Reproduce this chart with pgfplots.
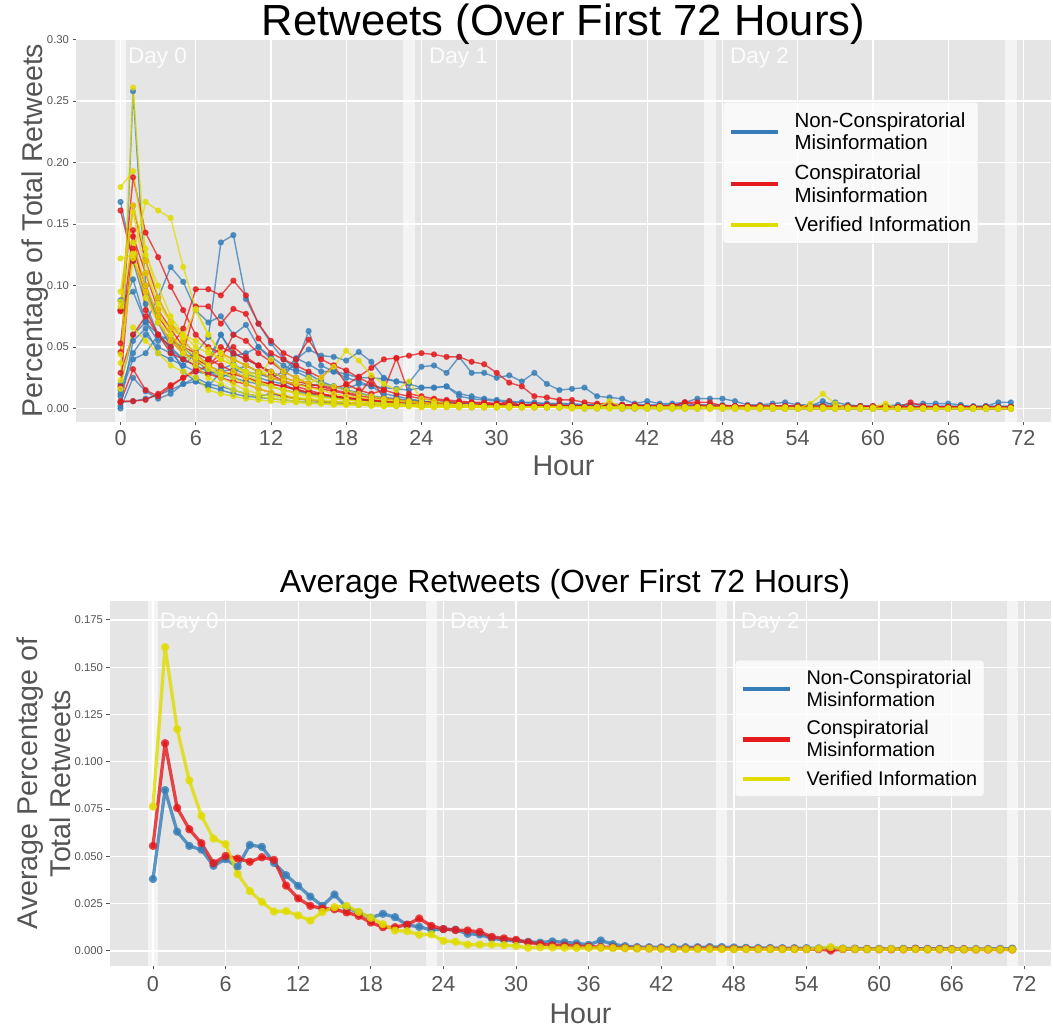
\documentclass[border=0pt]{standalone}
\usepackage{fontspec}
\setmainfont{Liberation Sans}
\usepackage{pgfplots}
\usepackage{pgfplotstable}
\pgfplotsset{compat=1.18}
\definecolor{ggbg}{HTML}{E5E5E5}
\definecolor{ggtxt}{HTML}{555555}
\definecolor{cb}{HTML}{377EB8}
\definecolor{cr}{HTML}{E41A1C}
\definecolor{cy}{HTML}{E0DC00}

\pgfplotstableread[row sep=\\]{
s h0 h1 h2 h3 h4 h5 h6 h7 h8 h9 h10 h11 h12 h13 h14 h15 h16 h17 h18 h19 h20 h21 h22 h23 h24 h25 h26 h27 h28 h29 h30 h31 h32 h33 h34 h35 h36 h37 h38 h39 h40 h41 h42 h43 h44 h45 h46 h47 h48 h49 h50 h51 h52 h53 h54 h55 h56 h57 h58 h59 h60 h61 h62 h63 h64 h65 h66 h67 h68 h69 h70 h71 \\
B1 0.168 0.120 0.085 0.060 0.048 0.040 0.035 0.030 0.028 0.025 0.022 0.020
 0.018 0.015 0.013 0.012 0.010 0.009 0.008 0.007 0.006 0.005 0.005 0.004
 0.004 0.003 0.003 0.003 0.002 0.002 0.002 0.002 0.002 0.001 0.001 0.001
 0.001 0.001 0.001 0.001 0.001 0.001 0.001 0.001 0.001 0.001 0.001 0.001
 0.001 0.001 0 0.001 0 0.001 0 0 0.001 0 0 0
 0 0 0.001 0 0 0 0 0 0 0 0 0 \\
B2 0.010 0.258 0.100 0.070 0.050 0.030 0.022 0.018 0.015 0.012 0.010 0.009
 0.008 0.007 0.006 0.005 0.005 0.004 0.004 0.003 0.003 0.003 0.002 0.002
 0.002 0.002 0.002 0.001 0.001 0.001 0.001 0.001 0.001 0.001 0.001 0.001
 0.001 0 0 0.001 0 0 0 0 0 0 0 0
 0 0 0 0 0 0 0 0 0 0 0 0
 0 0 0 0 0 0 0 0 0 0 0 0 \\
B3 0.002 0.055 0.065 0.045 0.040 0.035 0.045 0.058 0.135 0.141 0.089 0.069
 0.053 0.040 0.032 0.028 0.022 0.018 0.015 0.012 0.010 0.008 0.007 0.006
 0.005 0.005 0.004 0.004 0.003 0.003 0.003 0.003 0.002 0.002 0.002 0.002
 0.002 0.002 0.002 0.001 0.001 0.001 0.001 0.001 0.001 0.001 0.001 0.001
 0.001 0.001 0.001 0.001 0.001 0.001 0.001 0.001 0.001 0.001 0.001 0
 0 0 0.001 0 0 0 0.001 0 0 0 0 0 \\
B4 0.020 0.060 0.070 0.090 0.115 0.103 0.080 0.070 0.075 0.060 0.068 0.050
 0.040 0.030 0.035 0.063 0.035 0.030 0.025 0.022 0.018 0.012 0.010 0.008
 0.006 0.005 0.005 0.004 0.004 0.003 0.003 0.003 0.003 0.002 0.002 0.002
 0.002 0.002 0.002 0.002 0.001 0.001 0.001 0.001 0.001 0.001 0.001 0.001
 0.001 0.001 0.001 0.001 0.001 0.001 0.001 0.001 0.001 0.001 0.001 0.001
 0.001 0.001 0.001 0.001 0.001 0.001 0.001 0.001 0.001 0.001 0.001 0.001 \\
B5 0.088 0.095 0.070 0.060 0.050 0.040 0.045 0.040 0.060 0.045 0.040 0.035
 0.030 0.025 0.040 0.048 0.043 0.042 0.039 0.046 0.038 0.025 0.022 0.020
 0.017 0.017 0.018 0.012 0.010 0.008 0.007 0.006 0.005 0.005 0.004 0.004
 0.004 0.003 0.003 0.003 0.003 0.003 0.003 0.003 0.003 0.003 0.003 0.003
 0.003 0.002 0.002 0.002 0.002 0.002 0.002 0.002 0.006 0.002 0.002 0.002
 0.002 0.002 0.002 0.002 0.002 0.002 0.002 0.002 0.002 0.002 0.002 0.002 \\
B6 0.015 0.045 0.060 0.050 0.045 0.035 0.030 0.028 0.032 0.036 0.030 0.028
 0.025 0.030 0.041 0.036 0.030 0.030 0.028 0.025 0.025 0.024 0.022 0.021
 0.034 0.035 0.029 0.042 0.029 0.029 0.025 0.027 0.022 0.029 0.020 0.015
 0.016 0.017 0.010 0.009 0.008 0.004 0.006 0.004 0.004 0.005 0.008 0.008
 0.008 0.006 0.003 0.003 0.004 0.005 0.003 0.003 0.003 0.005 0.003 0.002
 0.002 0.002 0.003 0.003 0.004 0.004 0.004 0.003 0.001 0.002 0.005 0.005 \\
B7 0.012 0.040 0.045 0.060 0.055 0.050 0.040 0.030 0.025 0.030 0.035 0.030
 0.025 0.022 0.020 0.018 0.020 0.018 0.016 0.020 0.018 0.017 0.016 0.015
 0.017 0.017 0.018 0.010 0.008 0.007 0.006 0.005 0.005 0.004 0.004 0.004
 0.003 0.003 0.003 0.003 0.003 0.003 0.002 0.002 0.002 0.002 0.002 0.002
 0.002 0.002 0.002 0.002 0.002 0.002 0.002 0.002 0.002 0.002 0.002 0.002
 0.001 0.001 0.001 0.001 0.001 0.001 0.001 0.001 0.001 0.001 0.001 0.001 \\
B8 0.005 0.006 0.008 0.011 0.015 0.020 0.022 0.018 0.030 0.032 0.028 0.025
 0.022 0.020 0.015 0.012 0.010 0.009 0.008 0.007 0.006 0.005 0.004 0.004
 0.003 0.003 0.003 0.002 0.002 0.002 0.002 0.002 0.001 0.001 0.001 0.001
 0.001 0.001 0.001 0.001 0.001 0.001 0.001 0.001 0.001 0.001 0.001 0.001
 0.001 0.001 0.001 0.001 0 0 0 0 0 0 0 0
 0 0 0 0 0 0 0 0 0 0 0 0 \\
B9 0 0.025 0.014 0.008 0.012 0.020 0.025 0.020 0.018 0.015 0.012 0.010
 0.012 0.010 0.008 0.007 0.006 0.005 0.005 0.004 0.004 0.003 0.003 0.003
 0.002 0.002 0.002 0.002 0.001 0.001 0.001 0.001 0.001 0.001 0.001 0.001
 0.001 0.001 0.001 0.001 0 0 0 0 0 0 0 0
 0 0 0 0 0 0 0 0 0 0 0 0
 0 0 0 0 0 0 0 0 0 0 0 0 \\
B10 0.080 0.105 0.070 0.055 0.060 0.045 0.040 0.035 0.060 0.043 0.045 0.050
 0.042 0.035 0.030 0.025 0.020 0.018 0.015 0.013 0.010 0.009 0.008 0.007
 0.006 0.005 0.005 0.004 0.004 0.003 0.003 0.003 0.003 0.002 0.002 0.002
 0.002 0.002 0.002 0.002 0.002 0.001 0.001 0.001 0.001 0.001 0.001 0.001
 0.001 0.001 0.001 0.001 0.001 0.001 0.001 0.001 0.001 0.001 0.001 0.001
 0.001 0.001 0.001 0.001 0.001 0.001 0.001 0.001 0.001 0.001 0.001 0.001 \\
R1 0.161 0.120 0.095 0.070 0.055 0.045 0.040 0.035 0.030 0.028 0.025 0.022
 0.020 0.018 0.015 0.013 0.012 0.010 0.009 0.008 0.007 0.006 0.005 0.005
 0.004 0.004 0.003 0.003 0.003 0.002 0.002 0.002 0.002 0.002 0.001 0.001
 0.001 0.001 0.001 0.001 0.001 0.001 0.001 0.001 0.001 0.001 0.001 0.001
 0.001 0.001 0.001 0 0 0 0 0 0 0 0 0
 0 0 0 0 0 0 0 0 0 0 0 0 \\
R2 0.080 0.188 0.143 0.123 0.099 0.080 0.060 0.050 0.045 0.040 0.035 0.030
 0.025 0.022 0.020 0.018 0.016 0.014 0.012 0.010 0.009 0.008 0.007 0.006
 0.005 0.005 0.004 0.004 0.003 0.003 0.003 0.002 0.002 0.002 0.002 0.002
 0.002 0.001 0.001 0.001 0.001 0.001 0.001 0.001 0.001 0.001 0.001 0.001
 0.001 0.001 0.001 0.001 0.001 0.001 0.001 0.001 0.001 0.001 0.001 0.001
 0.001 0.001 0.001 0.001 0.001 0.001 0 0 0 0 0 0 \\
R3 0.053 0.145 0.080 0.060 0.050 0.065 0.097 0.097 0.092 0.104 0.092 0.069
 0.055 0.045 0.040 0.056 0.040 0.035 0.031 0.025 0.020 0.015 0.012 0.010
 0.008 0.007 0.006 0.005 0.005 0.004 0.004 0.003 0.003 0.003 0.002 0.002
 0.002 0.002 0.002 0.002 0.002 0.002 0.001 0.001 0.001 0.001 0.001 0.001
 0.001 0.001 0.001 0.001 0.001 0.001 0.001 0.001 0.001 0.001 0.001 0.001
 0.001 0.001 0.001 0.001 0.001 0.001 0.001 0.001 0.001 0.001 0.001 0.001 \\
R4 0.046 0.130 0.100 0.075 0.060 0.045 0.083 0.083 0.069 0.081 0.077 0.057
 0.045 0.040 0.035 0.030 0.025 0.035 0.020 0.015 0.012 0.015 0.041 0.012
 0.010 0.008 0.007 0.006 0.005 0.005 0.004 0.004 0.003 0.003 0.003 0.003
 0.002 0.002 0.002 0.002 0.002 0.002 0.002 0.002 0.002 0.002 0.002 0.002
 0.002 0.002 0.002 0.002 0.001 0.001 0.001 0.001 0.001 0.001 0.001 0.001
 0.001 0.001 0.001 0.001 0.001 0.001 0.001 0.001 0.001 0.001 0.001 0.001 \\
R5 0.029 0.060 0.075 0.060 0.045 0.040 0.035 0.040 0.050 0.045 0.040 0.035
 0.030 0.025 0.022 0.020 0.018 0.017 0.019 0.026 0.033 0.040 0.041 0.043
 0.045 0.044 0.042 0.042 0.038 0.036 0.029 0.021 0.018 0.010 0.009 0.007
 0.007 0.005 0.004 0.004 0.003 0.003 0.002 0.002 0.002 0.005 0.005 0.005
 0.002 0.002 0.002 0.002 0.002 0.002 0.002 0.002 0.001 0.001 0.001 0.001
 0.001 0.001 0.001 0.001 0.001 0.001 0.001 0.001 0.001 0.001 0.001 0.001 \\
R6 0.018 0.140 0.110 0.080 0.065 0.050 0.045 0.035 0.040 0.060 0.055 0.045
 0.038 0.030 0.025 0.020 0.018 0.015 0.013 0.011 0.025 0.008 0.007 0.006
 0.005 0.005 0.004 0.004 0.003 0.003 0.003 0.002 0.002 0.002 0.002 0.002
 0.002 0.002 0.001 0.001 0.001 0.001 0.001 0.001 0.001 0.001 0.001 0.001
 0.001 0.001 0.001 0.001 0.001 0.001 0.001 0.001 0.001 0.001 0.001 0.001
 0.001 0.001 0.001 0.001 0.001 0.001 0.001 0.001 0 0 0 0 \\
R7 0.005 0.032 0.015 0.010 0.018 0.025 0.030 0.035 0.045 0.050 0.042 0.035
 0.028 0.022 0.018 0.015 0.012 0.010 0.009 0.008 0.007 0.006 0.005 0.005
 0.004 0.004 0.004 0.003 0.003 0.003 0.002 0.002 0.002 0.002 0.002 0.002
 0.001 0.001 0.001 0.001 0.001 0.001 0.001 0.001 0.001 0.001 0.001 0.001
 0.001 0.001 0.001 0.001 0.001 0.001 0.001 0.001 0.001 0.001 0.001 0.001
 0.001 0.001 0.001 0.001 0.001 0.001 0.001 0.001 0.001 0.001 0 0 \\
R8 0.006 0.006 0.007 0.012 0.019 0.025 0.032 0.028 0.025 0.022 0.020 0.016
 0.013 0.010 0.008 0.007 0.006 0.005 0.005 0.004 0.004 0.003 0.003 0.003
 0.002 0.002 0.002 0.002 0.002 0.002 0.001 0.001 0.001 0.001 0.001 0.001
 0.001 0.001 0.001 0.001 0.001 0.001 0.001 0.001 0.001 0.001 0.001 0.001
 0 0 0 0 0 0 0 0 0 0 0 0
 0 0 0 0 0 0 0 0 0 0 0 0 \\
R9 0.079 0.165 0.120 0.090 0.070 0.055 0.045 0.040 0.035 0.030 0.025 0.022
 0.020 0.018 0.016 0.013 0.011 0.010 0.008 0.007 0.006 0.006 0.005 0.005
 0.004 0.004 0.004 0.003 0.003 0.003 0.003 0.006 0.002 0.002 0.002 0.002
 0.002 0.002 0.002 0.002 0.002 0.002 0.002 0.002 0.002 0.005 0.003 0.002
 0.002 0.002 0.002 0.002 0.002 0.002 0.002 0.002 0.002 0.002 0.002 0.002
 0.002 0.002 0.001 0.005 0.002 0.001 0.001 0.001 0.001 0.001 0.001 0.001 \\
Y1 0.023 0.261 0.120 0.080 0.060 0.045 0.035 0.025 0.020 0.015 0.012 0.010
 0.008 0.007 0.006 0.005 0.004 0.004 0.003 0.003 0.003 0.002 0.002 0.002
 0.001 0.001 0.001 0.001 0.001 0.001 0.001 0.001 0.001 0.001 0.001 0.001
 0 0 0 0 0 0 0 0 0 0 0 0
 0 0 0 0 0 0 0 0 0 0 0 0
 0 0 0 0 0 0 0 0 0 0 0 0 \\
Y2 0.180 0.193 0.130 0.090 0.070 0.055 0.045 0.035 0.030 0.025 0.020 0.016
 0.013 0.011 0.009 0.008 0.007 0.006 0.005 0.004 0.004 0.003 0.003 0.002
 0.002 0.002 0.002 0.001 0.001 0.001 0.001 0.001 0.001 0.001 0.001 0.001
 0.001 0.001 0.001 0.001 0.001 0.001 0.001 0.001 0.001 0.001 0.001 0.001
 0 0 0 0 0 0 0 0 0 0 0 0
 0 0 0 0 0 0 0 0 0 0 0 0 \\
Y3 0.122 0.125 0.168 0.161 0.155 0.115 0.081 0.060 0.045 0.035 0.028 0.022
 0.018 0.015 0.012 0.010 0.009 0.008 0.007 0.006 0.005 0.004 0.004 0.003
 0.003 0.002 0.002 0.002 0.001 0.001 0.001 0.001 0.001 0.001 0.001 0.001
 0.001 0.001 0.001 0.006 0.001 0.001 0 0 0 0 0 0
 0 0 0 0 0 0 0 0 0 0 0 0
 0 0 0 0 0 0 0 0 0 0 0 0 \\
Y4 0.095 0.165 0.125 0.100 0.075 0.060 0.050 0.045 0.040 0.035 0.030 0.025
 0.040 0.030 0.025 0.020 0.025 0.034 0.047 0.039 0.027 0.020 0.015 0.022
 0.008 0.006 0.004 0.003 0.003 0.002 0.002 0.002 0.001 0.001 0.001 0.001
 0.001 0.001 0.001 0.001 0.001 0.001 0.001 0.001 0.001 0.001 0.001 0.001
 0.001 0.001 0.001 0.001 0.001 0.001 0 0 0 0 0 0
 0 0 0 0 0 0 0 0 0 0 0 0 \\
Y5 0.087 0.160 0.110 0.085 0.070 0.060 0.055 0.048 0.040 0.035 0.030 0.028
 0.030 0.025 0.022 0.025 0.020 0.018 0.015 0.012 0.010 0.008 0.007 0.006
 0.005 0.004 0.003 0.003 0.003 0.002 0.002 0.002 0.001 0.001 0.001 0.001
 0.001 0.001 0.001 0.001 0.001 0.001 0.001 0.001 0.001 0.001 0.001 0.001
 0 0 0 0 0 0 0 0 0 0 0 0
 0.001 0.004 0 0 0 0 0 0 0 0 0 0 \\
Y6 0.083 0.135 0.100 0.075 0.065 0.058 0.080 0.060 0.045 0.040 0.035 0.030
 0.025 0.022 0.020 0.017 0.015 0.012 0.010 0.009 0.008 0.007 0.006 0.005
 0.004 0.003 0.003 0.002 0.002 0.002 0.001 0.001 0.001 0.001 0.001 0.001
 0.001 0.001 0.001 0.001 0.001 0.001 0 0 0 0 0 0
 0 0 0 0 0 0 0 0 0 0 0 0
 0 0 0 0 0 0 0 0 0 0 0 0 \\
Y7 0.044 0.126 0.095 0.070 0.055 0.045 0.040 0.032 0.028 0.030 0.025 0.020
 0.018 0.015 0.013 0.011 0.010 0.008 0.007 0.006 0.005 0.004 0.004 0.003
 0.003 0.002 0.002 0.002 0.002 0.001 0.001 0.001 0.001 0.001 0.001 0.001
 0.001 0.001 0.001 0.001 0.001 0.001 0.001 0.001 0.001 0.001 0.001 0.001
 0.001 0.001 0.001 0.001 0.001 0.001 0.001 0.001 0.001 0.001 0.001 0.001
 0 0 0 0 0 0 0 0 0 0 0 0 \\
Y8 0.037 0.122 0.090 0.070 0.060 0.050 0.042 0.035 0.025 0.020 0.015 0.012
 0.010 0.009 0.008 0.007 0.006 0.005 0.005 0.004 0.004 0.003 0.003 0.003
 0.002 0.002 0.002 0.002 0.002 0.002 0.001 0.001 0.001 0.001 0.001 0.001
 0 0 0 0 0 0 0 0 0 0 0 0
 0 0 0 0 0 0 0 0 0 0 0 0
 0 0 0 0 0 0 0 0 0 0 0 0 \\
Y9 0.016 0.066 0.055 0.045 0.035 0.030 0.025 0.015 0.012 0.010 0.008 0.007
 0.006 0.005 0.005 0.004 0.004 0.003 0.003 0.003 0.002 0.002 0.002 0.002
 0.001 0.001 0.001 0.001 0.001 0.001 0.001 0.001 0.001 0.001 0.001 0.001
 0.001 0.001 0.001 0.001 0.001 0.001 0.001 0.001 0.001 0.001 0.001 0.001
 0 0 0 0 0 0 0 0.004 0.012 0.004 0 0
 0 0 0 0 0 0 0 0 0 0 0 0 \\
}\Rtop
\pgfplotstabletranspose[colnames from=s]\Ttop{\Rtop}

\pgfplotstableread[row sep=\\]{
s h0 h1 h2 h3 h4 h5 h6 h7 h8 h9 h10 h11 h12 h13 h14 h15 h16 h17 h18 h19 h20 h21 h22 h23 h24 h25 h26 h27 h28 h29 h30 h31 h32 h33 h34 h35 h36 h37 h38 h39 h40 h41 h42 h43 h44 h45 h46 h47 h48 h49 h50 h51 h52 h53 h54 h55 h56 h57 h58 h59 h60 h61 h62 h63 h64 h65 h66 h67 h68 h69 h70 h71 \\
AB 0.038 0.085 0.063 0.0555 0.0535 0.045 0.0485 0.0445 0.056 0.055 0.0465 0.040
 0.0344 0.0287 0.0238 0.0298 0.0229 0.0203 0.0175 0.0196 0.0178 0.0137 0.0127 0.0111
 0.0115 0.0112 0.0090 0.0087 0.0066 0.0058 0.0053 0.0048 0.0044 0.0050 0.0045 0.0040
 0.0032 0.0055 0.0035 0.0025 0.0020 0.0019 0.0018 0.0018 0.0019 0.0019 0.0020 0.0020
 0.0018 0.0016 0.0015 0.0015 0.0014 0.0014 0.0014 0.0013 0.0014 0.0012 0.0012 0.0011
 0.0011 0.0011 0.0011 0.0012 0.0011 0.0011 0.0010 0.0010 0.0010 0.0010 0.0011 0.0012 \\
AR 0.0555 0.1098 0.0756 0.0643 0.0569 0.0464 0.0502 0.0488 0.0471 0.0495 0.0481 0.0345
 0.0277 0.0238 0.0224 0.0220 0.0203 0.0185 0.0150 0.0125 0.0125 0.0139 0.0171 0.0132
 0.0115 0.0110 0.0108 0.0100 0.0074 0.0066 0.0058 0.0045 0.0036 0.0030 0.0028 0.0025
 0.0022 0.0020 0.0018 0.0016 0.0014 0.0013 0.0013 0.0012 0.0012 0.0013 0.0013 0.0012
 0.0011 0.0011 0.0010 0.0010 0.0010 0.0010 0.0009 0.0009 0.0002 0.0009 0.0009 0.0009
 0.0008 0.0008 0.0008 0.0010 0.0008 0.0008 0.0008 0.0008 0.0007 0.0007 0.0007 0.0007 \\
AY 0.0763 0.1606 0.1172 0.0901 0.0714 0.0594 0.0564 0.0406 0.0316 0.0259 0.0208 0.0210
 0.0187 0.0160 0.0206 0.0231 0.0238 0.0206 0.0175 0.0141 0.0107 0.0104 0.0085 0.0087
 0.0053 0.0048 0.0033 0.0033 0.0033 0.0030 0.0026 0.0016 0.0018 0.0017 0.0016 0.0015
 0.0016 0.0015 0.0014 0.0013 0.0012 0.0011 0.0010 0.0010 0.0009 0.0009 0.0009 0.0009
 0.0008 0.0008 0.0008 0.0008 0.0008 0.0008 0.0009 0.0012 0.0020 0.0011 0.0009 0.0008
 0.0008 0.0010 0.0008 0.0008 0.0007 0.0007 0.0007 0.0007 0.0007 0.0007 0.0007 0.0007 \\
}\Rbot
\pgfplotstabletranspose[colnames from=s]\Tbot{\Rbot}

\tikzset{
  daylab/.style={anchor=base west, inner sep=0pt, text=white, text opacity=0.9,
    font=\fontsize{22.5bp}{26bp}\selectfont},
}
\pgfplotsset{
  gg/.style={
    scale only axis,
    axis background/.style={fill=ggbg},
    axis line style={draw=none},
    grid=major,
    grid style={draw=white, line width=1.3bp},
    tick align=outside,
    major tick length=3.5bp,
    tick style={draw=ggtxt, line width=0.9bp},
    xtick pos=left, ytick pos=left,
    xmin=-3.55, xmax=74.2,
    xtick={0,6,...,72},
    scaled y ticks=false,
    /pgf/number format/assume math mode=true,
    xticklabel style={font=\fontsize{21.6bp}{26bp}\selectfont, text=ggtxt, inner sep=2bp, yshift=-3bp},
    yticklabel style={font=\fontsize{11.3bp}{13bp}\selectfont, text=ggtxt,
      /pgf/number format/fixed, /pgf/number format/fixed zerofill},
    label style={font=\fontsize{28.6bp}{33.5bp}\selectfont, text=ggtxt},
    legend image code/.code={\path (-1bp,0bp); \draw[##1] (0bp,0bp) -- (47bp,0bp);},
    legend style={anchor=north west, draw=black!12, fill=white, fill opacity=0.8,
      text opacity=1, rounded corners=3bp,
      font=\fontsize{20.5bp}{22.6bp}\selectfont,
      inner xsep=5bp, inner ysep=8bp, row sep=9.5bp,
      nodes={inner xsep=2bp},
      cells={align=left, anchor=west},
      /tikz/every odd column/.append style={column sep=12bp}},
  },
  tb/.style={cb, line width=1.4bp, line join=round, opacity=0.75, mark=*, mark size=2.4bp, mark options={solid}},
  tr/.style={cr, line width=1.4bp, line join=round, opacity=0.75, mark=*, mark size=2.4bp, mark options={solid}},
  ty/.style={cy, line width=1.4bp, line join=round, opacity=0.75, mark=*, mark size=2.4bp, mark options={solid}},
  ab/.style={line width=3.3bp, line join=round, opacity=0.8, mark=*, mark size=2.5bp, mark options={solid}, forget plot},
  band/.style={draw=none, fill=white, fill opacity=0.6, forget plot},
}

\begin{document}
\begin{tikzpicture}
\path[use as bounding box] (0bp,0bp) rectangle (1053bp,-1029bp);

% ---------------- top axis ----------------
\begin{axis}[gg,
  at={(76bp,-421.7bp)}, anchor=south west,
  width=975bp, height=382.4bp,
  ymin=-0.0107, ymax=0.3002,
  ytick={0,0.05,0.10,0.15,0.20,0.25,0.30},
  yticklabel style={/pgf/number format/precision=2},
  title={Retweets (Over First 72 Hours)},
  title style={at={(axis description cs:0.5,1)}, anchor=base, yshift=-2.5bp,
    font=\fontsize{43.6bp}{50bp}\selectfont, text=black},
  xlabel={Hour},
  x label style={at={(axis description cs:0.5,0)}, anchor=center, yshift=-44.3bp},
  ylabel={Percentage of Total Retweets},
  y label style={at={(axis description cs:-0.0421,0.5)}, anchor=center},
  legend style={at={(0.6636,0.836)}},
]
\addplot[band] coordinates {(-0.45,-1) (0.45,-1) (0.45,1) (-0.45,1)};
\addplot[band] coordinates {(22.55,-1) (23.45,-1) (23.45,1) (22.55,1)};
\addplot[band] coordinates {(46.55,-1) (47.45,-1) (47.45,1) (46.55,1)};
\addplot[band] coordinates {(70.55,-1) (71.45,-1) (71.45,1) (70.55,1)};
\pgfplotsinvokeforeach{B1,B2,B3,B4,B5,B6,B7,B8,B9,B10}{
  \addplot[tb, forget plot] table[x expr=\coordindex, y=#1]{\Ttop};
}
\pgfplotsinvokeforeach{R1,R2,R3,R4,R5,R6,R7,R8,R9}{
  \addplot[tr, forget plot] table[x expr=\coordindex, y=#1]{\Ttop};
}
\pgfplotsinvokeforeach{Y1,Y2,Y3,Y4,Y5,Y6,Y7,Y8,Y9}{
  \addplot[ty, forget plot] table[x expr=\coordindex, y=#1]{\Ttop};
}
\addlegendimage{cb, line width=4.3bp}
\addlegendentry{Non-Conspiratorial\\Misinformation}
\addlegendimage{cr, line width=4.3bp}
\addlegendentry{Conspiratorial\\Misinformation}
\addlegendimage{cy, line width=4.3bp}
\addlegendentry{Verified Information}
\node[daylab] at (axis cs:0.6,0.2807) {Day 0};
\node[daylab] at (axis cs:24.6,0.2807) {Day 1};
\node[daylab] at (axis cs:48.6,0.2807) {Day 2};
\end{axis}

% ---------------- bottom axis ----------------
\begin{axis}[gg,
  at={(110bp,-966bp)}, anchor=south west,
  width=941bp, height=365bp,
  ymin=-0.008, ymax=0.185,
  ytick={0,0.025,0.05,0.075,0.1,0.125,0.15,0.175},
  yticklabel style={/pgf/number format/precision=3},
  xticklabel style={yshift=-2bp},
  title={Average Retweets (Over First 72 Hours)},
  title style={at={(axis description cs:0.4835,1)}, anchor=base, yshift=2.5bp,
    font=\fontsize{32bp}{38bp}\selectfont, text=black},
  xlabel={Hour},
  x label style={at={(axis description cs:0.5,0)}, anchor=center, yshift=-48bp},
  ylabel={Average Percentage of\\Total Retweets},
  y label style={at={(axis description cs:-0.0701,0.5)}, anchor=center, align=center},
  legend style={at={(0.6642,0.8384)}, font=\fontsize{19.8bp}{22bp}\selectfont, row sep=8.5bp},
]
\addplot[band] coordinates {(-0.45,-1) (0.45,-1) (0.45,1) (-0.45,1)};
\addplot[band] coordinates {(22.55,-1) (23.45,-1) (23.45,1) (22.55,1)};
\addplot[band] coordinates {(46.55,-1) (47.45,-1) (47.45,1) (46.55,1)};
\addplot[band] coordinates {(70.55,-1) (71.45,-1) (71.45,1) (70.55,1)};
\addplot[cb, ab] table[x expr=\coordindex, y=AB]{\Tbot};
\addplot[cr, ab] table[x expr=\coordindex, y=AR]{\Tbot};
\addplot[cy, ab] table[x expr=\coordindex, y=AY]{\Tbot};
\addlegendimage{cb, line width=4.3bp}
\addlegendentry{Non-Conspiratorial\\Misinformation}
\addlegendimage{cr, line width=4.3bp}
\addlegendentry{Conspiratorial\\Misinformation}
\addlegendimage{cy, line width=4.3bp}
\addlegendentry{Verified Information}
\node[daylab] at (axis cs:0.55,0.1707) {Day 0};
\node[daylab] at (axis cs:24.55,0.1707) {Day 1};
\node[daylab] at (axis cs:48.55,0.1707) {Day 2};
\end{axis}
\end{tikzpicture}
\end{document}
